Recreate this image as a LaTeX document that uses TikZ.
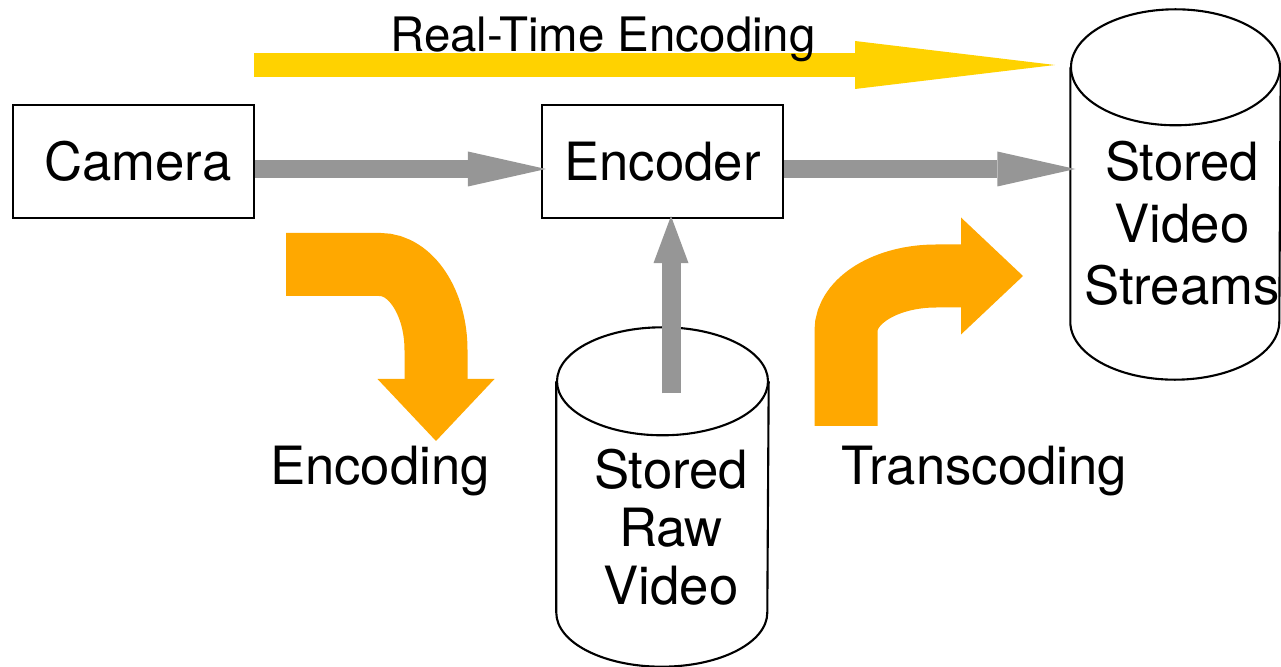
\documentclass[tikz,border=0pt]{standalone}
\usepackage{fontspec}
\setmainfont{TeX Gyre Heros}
\usetikzlibrary{arrows.meta}
\definecolor{flowgray}{RGB}{150,150,150}
\definecolor{rtyellow}{RGB}{255,210,0}
\definecolor{turnorange}{RGB}{255,168,0}
\tikzset{t/.style={font=\fontsize{15}{18}\selectfont}}
\tikzset{box/.style={t,rectangle,draw,line width=0.6pt,minimum width=2.41cm,minimum height=1.13cm,inner sep=0pt}}
\tikzset{flow/.style={line width=1.8mm,flowgray,-{Triangle[length=7.8mm,width=3.5mm,line width=0pt]}}}
\tikzset{turn/.style={line width=6.3mm,turnorange,-{Triangle[length=6.2mm,width=11.7mm,line width=0pt]}}}

\begin{document}
\begin{tikzpicture}
      \useasboundingbox (0,0) rectangle (12.81,-6.67);
      \node[box] (camera) at (1.335,-1.615) {\hspace*{0.9mm}Camera};
      \node[box] (encoder) at (6.625,-1.615) {Encoder};
      % cylinder bodies, outlines drawn in the loop
      \node[inner sep=0pt,minimum width=2.11cm,minimum height=2.30cm] (raw) at (6.625,-4.97) {};
      \node[inner sep=0pt,minimum width=2.09cm,minimum height=2.53cm] (streams) at (11.755,-1.945) {};
      \foreach \n/\rx/\ry in {raw/1.055/0.54,streams/1.045/0.58} {
        \draw[line width=0.6pt] (\n.north west) -- (\n.south west)
          arc[start angle=180,end angle=360,x radius=\rx,y radius=\ry] -- (\n.north east);
        \draw[line width=0.6pt] (\n.north) ellipse[x radius=\rx,y radius=\ry];
      }
      \node[font=\fontsize{15}{16.5}\selectfont,align=center] (rawtext) at (6.71,-5.275) {Stored\\Raw\\Video};
      \node[font=\fontsize{15}{17.6}\selectfont,align=center] (streamstext) at (11.82,-2.23) {Stored\\Video\\Streams};

      \coordinate (rtstart) at (2.54,-0.65);
      \coordinate (rtend) at (10.55,-0.65);
      \draw[line width=2.4mm,rtyellow,-{Triangle[length=20mm,width=4.8mm,line width=0pt]}] (rtstart) -- (rtend);
      \node[font=\fontsize{13.5}{16}\selectfont,anchor=base] (rtlabel) at (6.03,-0.52) {Real-Time Encoding};

      \draw[flow] ([yshift=-0.75mm]camera.east) -- ([xshift=0.5mm,yshift=-0.75mm]encoder.west);
      \draw[flow] ([yshift=-0.75mm]encoder.east) -- ([xshift=0.5mm,yshift=-0.75mm]encoder.east -| streams.west);
      \draw[line width=1.9mm,flowgray,-{Triangle[length=4.7mm,width=3.5mm,line width=0pt]}]
        ([xshift=0.85mm,yshift=-1.2mm]raw.north) -- ([xshift=0.85mm,yshift=0.3mm]encoder.south);

      % bent block arrows
      \draw[turn] (2.86,-2.645) -- (3.80,-2.645) .. controls (4.109,-2.645) and (4.36,-3.028) .. (4.36,-3.50) -- (4.36,-4.41);
      \draw[turn] (8.46,-4.26) -- (8.46,-3.31) .. controls (8.46,-3.006) and (8.863,-2.76) .. (9.36,-2.76) -- (10.23,-2.76);
      \node[t,anchor=base] (enclabel) at (3.80,-4.85) {Encoding};
      \node[t,anchor=base] (translabel) at (9.845,-4.85) {Transcoding};
    \end{tikzpicture}
\end{document}
